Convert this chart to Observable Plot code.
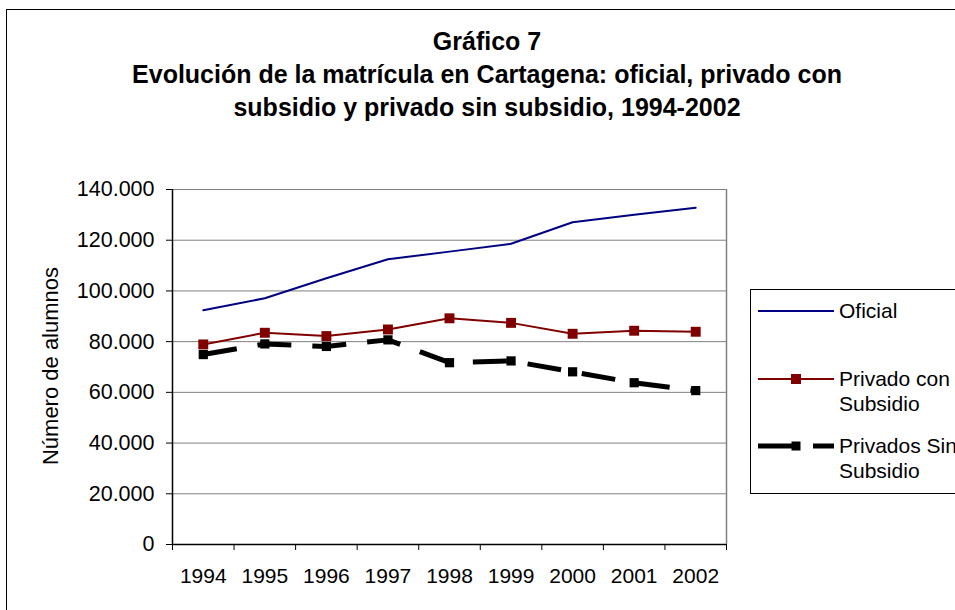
<!DOCTYPE html>
<html>
<head>
<meta charset="utf-8">
<script src="https://cdn.jsdelivr.net/npm/d3@7"></script>
<script src="https://cdn.jsdelivr.net/npm/@observablehq/plot@0.6"></script>
<style>
  html, body { margin: 0; padding: 0; background: #fff; }
  body { width: 955px; height: 610px; overflow: hidden; position: relative;
         font-family: "Liberation Sans", Arial, sans-serif; color: #000; }
  #title { position: absolute; left: 0; top: 25px; width: 974px; text-align: center;
           font-weight: bold; font-size: 25px; line-height: 33px; white-space: nowrap; }
  #ylabel { position: absolute; left: -99px; top: 353px; width: 300px; height: 26px; line-height: 26px;
            text-align: center; font-size: 22px; transform: rotate(-90deg); transform-origin: 150px 13px; white-space: nowrap; }
  #border { position: absolute; left: 6px; top: 9px; width: 1200px; height: 900px;
            border: 1.5px solid #000; pointer-events: none; }
  #legend { position: absolute; left: 750px; top: 289px; width: 240px; height: 203px;
            border: 1px solid #000; background: #fff; }
  #chart { position: absolute; left: 0; top: 0; }
</style>
</head>
<body>
<div id="chart"></div>
<div id="title"></div>
<div id="ylabel"></div>
<div id="legend"></div>
<div id="border"></div>
<script>
// ---- Data ----
const titleLines = [
  "Gráfico 7",
  "Evolución de la matrícula en Cartagena: oficial, privado con",
  "subsidio y privado sin subsidio, 1994-2002"
];
const yLabel = "Número de alumnos";
const years = [1994, 1995, 1996, 1997, 1998, 1999, 2000, 2001, 2002];
const oficial = [92400, 97100, 105000, 112500, 115500, 118600, 127100, 130000, 132800];
const privadoConSubsidio = [78900, 83500, 82200, 84800, 89200, 87400, 83100, 84300, 83900];
const privadoSinSubsidio = [74900, 79100, 78100, 80700, 71700, 72400, 68100, 63800, 60700];
const yTicks = [0, 20000, 40000, 60000, 80000, 100000, 120000, 140000];
const seriesNames = ["Oficial", "Privado con\nSubsidio", "Privados Sin\nSubsidio"];

// ---- Build ----
const rows = years.map((y, i) => ({
  year: y, oficial: oficial[i], con: privadoConSubsidio[i], sin: privadoSinSubsidio[i]
}));
const xMin = years[0] - 0.5, xMax = years[years.length - 1] + 0.5;
const bounds = years.map(y => y - 0.5).concat([xMax]);
const fmt = d => d3.format(",")(d).replace(/,/g, ".");

const chart = Plot.plot({
  width: 955, height: 610,
  marginLeft: 172, marginRight: 229, marginTop: 189, marginBottom: 66,
  style: { background: "transparent", fontFamily: "Liberation Sans, Arial, sans-serif", fontSize: "21px", color: "#000" },
  x: { type: "linear", domain: [xMin, xMax] },
  y: { domain: [0, yTicks[yTicks.length - 1]] },
  marks: [
    Plot.ruleY(yTicks.filter(d => d > 0), { stroke: "#808080", strokeWidth: 1 }),
    Plot.ruleX([xMax], { stroke: "#808080", strokeWidth: 1.5 }),
    Plot.ruleX([xMin], { stroke: "#000", strokeWidth: 1.5 }),
    Plot.ruleY([0], { stroke: "#000", strokeWidth: 1.5 }),
    Plot.axisY({ ticks: yTicks, tickSize: 6, tickPadding: 12, tickFormat: fmt, fontSize: 21.5, label: null }),
    Plot.axisX({ ticks: bounds, tickSize: 6, tickFormat: () => "", label: null }),
    Plot.axisX({ ticks: years, tickSize: 0, tickPadding: 24, tickFormat: d => String(d), fontSize: 21, label: null }),
    Plot.line(rows, { x: "year", y: "oficial", stroke: "#000080", strokeWidth: 2 }),
    Plot.line(rows, { x: "year", y: "con", stroke: "#800000", strokeWidth: 2 }),
    Plot.dot(rows, { x: "year", y: "con", symbol: "square", r: 5.6, fill: "#800000", stroke: "none" }),
    Plot.line(rows, { x: "year", y: "sin", stroke: "#000", strokeWidth: 5, strokeDasharray: "34,21", strokeLinecap: "butt" }),
    Plot.dot(rows, { x: "year", y: "sin", symbol: "square", r: 5.2, fill: "#000", stroke: "none" })
  ]
});
document.getElementById("chart").append(chart);

document.getElementById("title").innerHTML = titleLines.map(t => `<div>${t}</div>`).join("");
document.getElementById("ylabel").textContent = yLabel;

// ---- Legend ----
const NS = "http://www.w3.org/2000/svg";
const lsvg = document.createElementNS(NS, "svg");
lsvg.setAttribute("width", "240");
lsvg.setAttribute("height", "203");
lsvg.style.display = "block";
lsvg.style.fontFamily = "Liberation Sans, Arial, sans-serif";
lsvg.style.fontSize = "21px";
document.getElementById("legend").appendChild(lsvg);
function el(tag, attrs) {
  const e = document.createElementNS(NS, tag);
  for (const k in attrs) if (attrs[k] != null) e.setAttribute(k, attrs[k]);
  lsvg.appendChild(e);
  return e;
}
const rowsY = [21, 89, 156];
const styles = [
  { stroke: "#000080", w: 2, dash: null, sqFill: null, s: 0 },
  { stroke: "#800000", w: 2, dash: null, sqFill: "#800000", s: 10 },
  { stroke: "#000000", w: 5, dash: "34,21", sqFill: "#000000", s: 9 }
];
seriesNames.forEach((name, i) => {
  const st = styles[i], y = rowsY[i];
  el("line", { x1: 7, x2: 83, y1: y, y2: y, stroke: st.stroke, "stroke-width": st.w, "stroke-dasharray": st.dash });
  if (st.sqFill) el("rect", { x: 45 - st.s / 2, y: y - st.s / 2, width: st.s, height: st.s, fill: st.sqFill });
  name.split("\n").forEach((t, j) => {
    const tx = el("text", { x: 88, y: y + j * 25, dy: "0.35em", fill: "#000" });
    tx.textContent = t;
  });
});
</script>
</body>
</html>
